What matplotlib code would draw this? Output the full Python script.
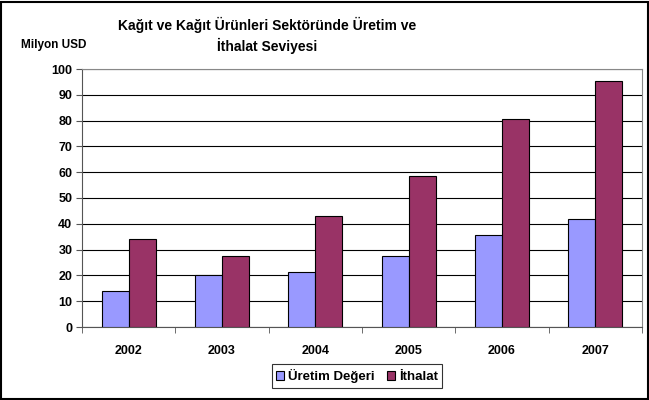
import numpy as np
import matplotlib
matplotlib.use("Agg")
import matplotlib.pyplot as plt
from matplotlib.patches import Rectangle

plt.rcParams["font.family"] = ["Liberation Sans", "DejaVu Sans"]
plt.rcParams["font.weight"] = "bold"

years = ["2002", "2003", "2004", "2005", "2006", "2007"]
uretim = [14.0, 20.1, 21.2, 27.7, 35.6, 42.0]
ithalat = [34.3, 27.7, 43.0, 58.4, 80.6, 95.3]

fig = plt.figure(figsize=(6.49, 4.0), dpi=100)
ax = fig.add_axes([82 / 649, 1 - 327 / 400, 560 / 649, 258 / 400])

x = np.arange(len(years))
w = 0.29
ax.bar(x - w / 2, uretim, w, color="#9999FF", edgecolor="black", lw=0.8,
       label="Üretim Değeri", zorder=3)
ax.bar(x + w / 2, ithalat, w, color="#993366", edgecolor="black", lw=0.8,
       label="İthalat", zorder=3)

ax.set_xlim(-0.5, len(years) - 0.5)
ax.set_ylim(0, 100)
ax.set_yticks(np.arange(0, 101, 10))
ax.yaxis.grid(True, color="black", lw=0.8, zorder=0)
ax.set_xticks(x)
ax.set_xticklabels(years, fontsize=9, fontweight="bold")
ax.tick_params(axis="x", length=0, pad=13)
ax.set_xticks(np.arange(-0.5, len(years)), minor=True)
ax.tick_params(axis="x", which="minor", length=4, color="#555555")
ax.tick_params(axis="y", length=4, labelsize=9, color="#555555", pad=3)
for lab in ax.get_yticklabels():
    lab.set_fontweight("bold")
for s in ["top", "right"]:
    ax.spines[s].set_color("#888888")
for s in ["left", "bottom"]:
    ax.spines[s].set_color("#555555")

fig.text(267 / 649, 1 - 25 / 400, "Kağıt ve Kağıt Ürünleri Sektöründe Üretim ve",
         ha="center", va="center", fontsize=10, fontweight="bold")
fig.text(267 / 649, 1 - 46 / 400, "İthalat Seviyesi",
         ha="center", va="center", fontsize=10, fontweight="bold")
fig.text(21 / 649, 1 - 45 / 400, "Milyon USD", ha="left", va="center",
         fontsize=8.5, fontweight="bold")

leg = fig.legend(loc="center", bbox_to_anchor=(357 / 649, 1 - 376 / 400),
                 ncol=2, frameon=True, fancybox=False,
                 edgecolor="black", handlelength=0.6, handleheight=0.6,
                 handletextpad=0.3, columnspacing=0.9, borderpad=0.35,
                 prop={"weight": "bold", "size": 9.5})
leg.get_frame().set_linewidth(0.8)

fig.patches.append(Rectangle((1 / 649, 1 / 400), 647 / 649, 397 / 400,
                             transform=fig.transFigure, fill=False,
                             edgecolor="black", lw=1.5))

fig.savefig("out.png", dpi=100)
